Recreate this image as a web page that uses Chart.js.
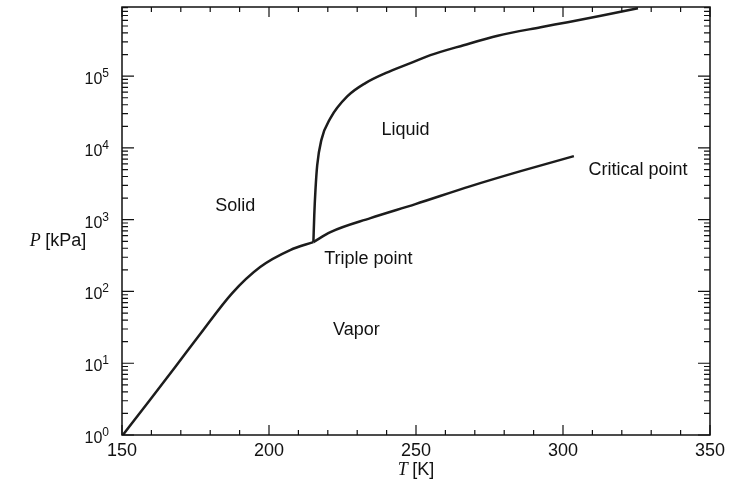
<!DOCTYPE html>
<html>
<head>
<meta charset="utf-8">
<script src="https://cdn.jsdelivr.net/npm/chart.js@4"></script>
<style>
  body { margin: 0; background: #fff; }
  canvas { display: block; }
</style>
</head>
<body>
<canvas id="phaseChart" width="733" height="495"></canvas>
<script>
// Values (T in K, P in kPa)
const sublimationT = [150.3, 159.5, 168.1, 176.6, 187.5, 197.0, 207.2, 215.1];
const sublimationP = [1, 3.07, 8.85, 25.5, 95, 219, 377, 488];

const vaporT = [215.1, 220.9, 234.5, 249.8, 268.6, 285.6, 303.7];
const vaporP = [488, 672, 1052, 1650, 2940, 4750, 7690];

const meltingT = [215.1, 215.4, 215.8, 216.4, 217.8, 220.9, 226.7, 232.8, 239.6, 248.1, 254.9, 266.2, 277.8, 292.4, 301.6, 312.9, 325.5];
const meltingP = [488, 1159, 2583, 5760, 12850, 26000, 52600, 80000, 110000, 152000, 196000, 270000, 366000, 481000, 565000, 696000, 885000];

const xTicks = [150, 200, 250, 300, 350];
const yDecades = [0, 1, 2, 3, 4, 5];

// region names and where they sit (in T / P)
const regionNames = ['Solid', 'Liquid', 'Vapor', 'Triple point', 'Critical point'];
const regionT = [188.5, 246.4, 229.7, 233.8, 325.5];
const regionP = [1550, 17700, 29, 285, 4900];

const SANS = '"Liberation Sans", Arial, sans-serif';

function toPoints(xs, ys) {
  return xs.map((x, i) => ({ x: x, y: ys[i] }));
}

function curve(xs, ys) {
  return {
    data: toPoints(xs, ys),
    borderColor: '#1c1c1c',
    borderWidth: 2.5,
    pointRadius: 0,
    cubicInterpolationMode: 'monotone',
    fill: false
  };
}

// frame, inward ticks, labels and axis titles
const decorations = {
  id: 'decorations',
  afterDraw(chart) {
    const ctx = chart.ctx;
    const area = chart.chartArea;
    const xs = chart.scales.x;
    const ys = chart.scales.y;

    ctx.save();
    ctx.strokeStyle = '#111';
    ctx.lineWidth = 1.5;
    ctx.strokeRect(area.left, area.top, area.right - area.left, area.bottom - area.top);

    ctx.lineWidth = 1.2;
    ctx.beginPath();
    xs.ticks.forEach(t => {
      const px = xs.getPixelForValue(t.value);
      const len = xTicks.includes(t.value) ? 10 : 5;
      ctx.moveTo(px, area.bottom); ctx.lineTo(px, area.bottom - len);
      ctx.moveTo(px, area.top); ctx.lineTo(px, area.top + len);
    });
    ys.ticks.forEach(t => {
      const py = ys.getPixelForValue(t.value);
      const lg = Math.log10(t.value);
      const len = Math.abs(lg - Math.round(lg)) < 1e-9 ? 12 : 6;
      ctx.moveTo(area.left, py); ctx.lineTo(area.left + len, py);
      ctx.moveTo(area.right, py); ctx.lineTo(area.right - len, py);
    });
    ctx.stroke();

    ctx.fillStyle = '#111';

    // y tick labels: 10 with raised exponent
    ctx.textBaseline = 'alphabetic';
    yDecades.forEach(d => {
      const py = ys.getPixelForValue(Math.pow(10, d));
      ctx.font = '12px ' + SANS;
      const ew = ctx.measureText(String(d)).width;
      const xr = area.left - 13;
      ctx.textAlign = 'right';
      ctx.fillText(String(d), xr, py + 1);
      ctx.font = '16px ' + SANS;
      ctx.fillText('10', xr - ew, py + 8);
    });

    // region labels
    ctx.font = '18px ' + SANS;
    ctx.textAlign = 'center';
    ctx.textBaseline = 'middle';
    regionNames.forEach((name, i) => {
      ctx.fillText(name, xs.getPixelForValue(regionT[i]), ys.getPixelForValue(regionP[i]));
    });

    // axis titles (italic symbol + unit)
    function title(sym, unit, cx, cy) {
      ctx.font = 'italic 18px "Liberation Serif", serif';
      const w1 = ctx.measureText(sym + ' ').width;
      ctx.font = '18px ' + SANS;
      const w2 = ctx.measureText(unit).width;
      const x0 = cx - (w1 + w2) / 2;
      ctx.textAlign = 'left';
      ctx.font = 'italic 18px "Liberation Serif", serif';
      ctx.fillText(sym, x0, cy);
      ctx.font = '18px ' + SANS;
      ctx.fillText(unit, x0 + w1, cy);
    }
    title('T', '[K]', (area.left + area.right) / 2, 470);
    title('P', '[kPa]', 58, ys.getPixelForValue(500));
    ctx.restore();
  }
};

new Chart(document.getElementById('phaseChart').getContext('2d'), {
  type: 'line',
  data: {
    datasets: [
      curve(sublimationT, sublimationP),
      curve(vaporT, vaporP),
      curve(meltingT, meltingP)
    ]
  },
  options: {
    responsive: false,
    animation: false,
    layout: { padding: { top: 7, right: 23, left: 0, bottom: 0 } },
    plugins: {
      legend: { display: false },
      tooltip: { enabled: false }
    },
    scales: {
      x: {
        type: 'linear',
        min: 150,
        max: 350,
        grid: { display: false, drawTicks: false },
        border: { display: false },
        ticks: {
          stepSize: 10,
          autoSkip: false,
          maxRotation: 0,
          padding: 5,
          color: '#111',
          font: { family: SANS, size: 18 },
          callback: v => xTicks.includes(v) ? String(v) : ''
        },
        afterFit: s => { s.height = 60; s.paddingLeft = 0; s.paddingRight = 0; }
      },
      y: {
        type: 'logarithmic',
        min: 1,
        max: 920000,
        grid: { display: false, drawTicks: false },
        border: { display: false },
        afterBuildTicks: s => {
          const list = [];
          yDecades.forEach(d => {
            for (let m = 1; m <= 9; m++) {
              const v = m * Math.pow(10, d);
              if (v <= s.max) list.push({ value: v });
            }
          });
          s.ticks = list;
        },
        ticks: {
          autoSkip: false,
          display: false
        },
        afterFit: s => { s.width = 122; s.paddingTop = 0; s.paddingBottom = 0; }
      }
    }
  },
  plugins: [decorations]
});
</script>
</body>
</html>
